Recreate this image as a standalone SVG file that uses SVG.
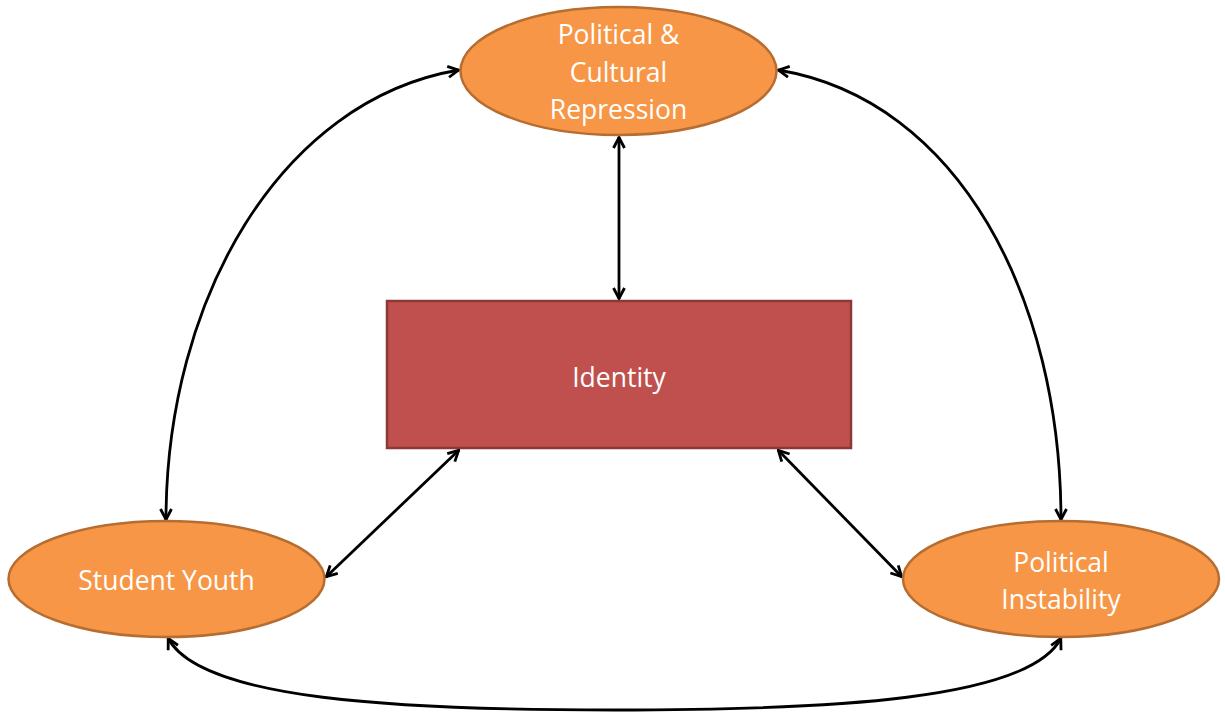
<svg xmlns="http://www.w3.org/2000/svg" width="1225" height="712" viewBox="0 0 1225 712">
<style>
.ell{fill:#F79646;stroke:#B66D31;stroke-width:2.5}
.box{fill:#C0504D;stroke:#8C3836;stroke-width:2.5}
.lbl{font-family:"Open Sans","Liberation Sans",sans-serif;font-size:26.5px;fill:#FFFFFF;text-anchor:middle}
.con{fill:none;stroke:#000;stroke-width:2.8;marker-start:url(#ah);marker-end:url(#ah)}
</style>
<defs>
<marker id="ah" viewBox="0 0 14 14" refX="13" refY="7" markerWidth="14" markerHeight="14" markerUnits="userSpaceOnUse" orient="auto-start-reverse">
<path d="M2,1.5 L12.5,7 L2,12.5" fill="none" stroke="#000" stroke-width="2.8"/>
</marker>
</defs>
<rect width="1225" height="712" fill="#FFFFFF"/>
<g id="connectors">
<path class="con" d="M619,137 L619,299"/>
<path class="con" d="M459,70 C280,100 166,300 166,520"/>
<path class="con" d="M778,70 C960,100 1061,300 1061,520"/>
<path class="con" d="M459,450 L326,577"/>
<path class="con" d="M778,450 L902,577"/>
<path class="con" d="M168,638 C200,700 400,710 614,710 C830,710 1030,700 1061,638"/>
</g>
<g id="node-repression">
<ellipse class="ell" cx="618.5" cy="71" rx="158" ry="64"/>
<text class="lbl" x="618.5" y="44">Political &amp;</text>
<text class="lbl" x="618.5" y="82">Cultural</text>
<text class="lbl" x="618.5" y="119">Repression</text>
</g>
<g id="node-identity">
<rect class="box" x="387" y="301" width="464" height="147"/>
<text class="lbl" x="619" y="387">Identity</text>
</g>
<g id="node-youth">
<ellipse class="ell" cx="166.5" cy="579" rx="158" ry="58"/>
<text class="lbl" x="166.5" y="590">Student Youth</text>
</g>
<g id="node-instability">
<ellipse class="ell" cx="1061" cy="579" rx="158" ry="58"/>
<text class="lbl" x="1061" y="572">Political</text>
<text class="lbl" x="1061" y="609">Instability</text>
</g>
</svg>
